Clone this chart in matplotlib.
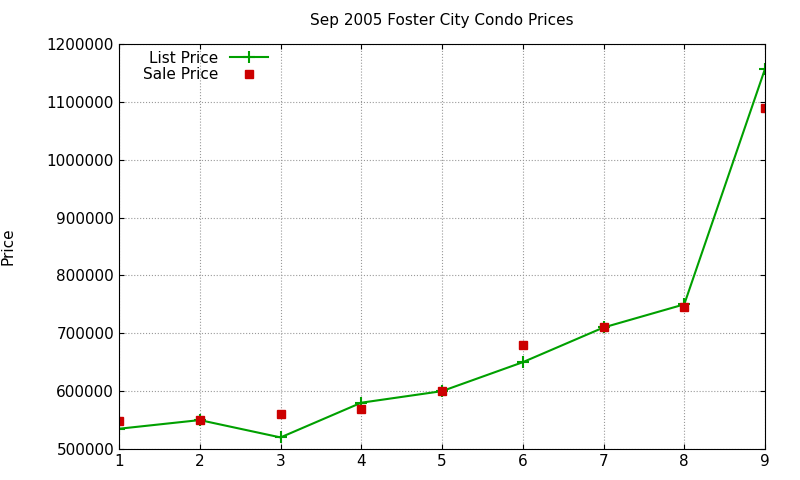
import matplotlib
matplotlib.use("Agg")
import matplotlib.pyplot as plt
from matplotlib.ticker import FormatStrFormatter

x = [1, 2, 3, 4, 5, 6, 7, 8, 9]
list_price = [535000, 550000, 520000, 580000, 600000, 650000, 710000, 750000, 1157000]
sale_price = [548000, 550000, 560000, 569000, 600000, 680000, 711000, 745000, 1089000]

fig = plt.figure(figsize=(8, 4.8), dpi=100)
ax = fig.add_axes([119 / 800, 1 - 449 / 480, (765 - 119) / 800, (449 - 44) / 480])

ax.plot(x, list_price, color="#00a000", lw=1.5, marker="+", ms=8, mew=1.5, label="List Price")
ax.plot(x, sale_price, ls="none", marker="s", ms=6, color="#cc0000", label="Sale Price")

ax.set_xlim(1, 9)
ax.set_ylim(500000, 1200000)
ax.set_yticks(range(500000, 1200001, 100000))
ax.yaxis.set_major_formatter(FormatStrFormatter("%d"))
ax.grid(True, color="#999999", ls=":", lw=0.8)
ax.tick_params(direction="in", labelsize=11, top=True, right=True)
ax.set_ylabel("Price", fontsize=11)
ax.yaxis.set_label_coords(-0.16, 0.5)
ax.set_title("Sep 2005 Foster City Condo Prices", fontsize=11, pad=14)
ax.legend(loc="upper left", bbox_to_anchor=(0.02, 1.01), frameon=False, fontsize=11,
          markerfirst=False, handlelength=2.5, borderpad=0.2, labelspacing=0.1)

fig.savefig("out.png")
